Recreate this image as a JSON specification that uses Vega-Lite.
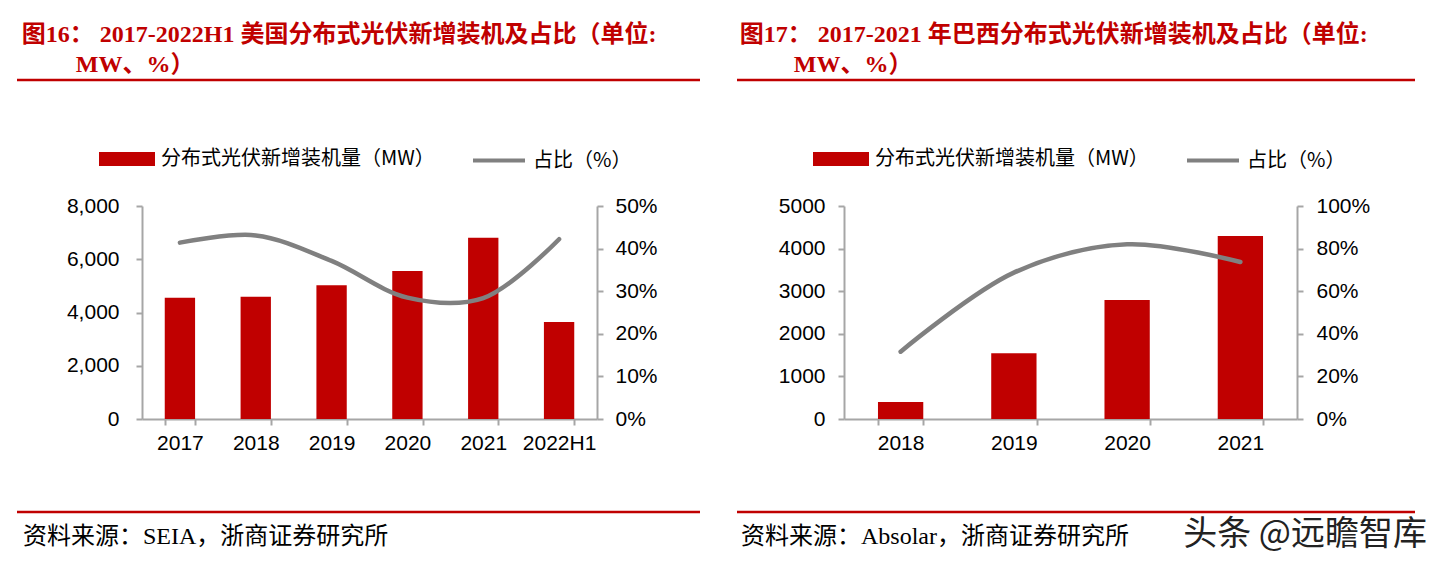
{
  "$schema": "https://vega.github.io/schema/vega-lite/v6.json",
  "padding": {"left": 15, "top": 22, "right": 5, "bottom": 5},
  "background": "white",
  "config": {
    "view": {"stroke": null},
    "font": "Liberation Sans",
    "axis": {
      "domainColor": "#A6A6A6", "domainWidth": 2,
      "tickColor": "#A6A6A6", "tickWidth": 2, "tickSize": 6,
      "labelColor": "#000000", "labelFont": "Liberation Sans", "labelFontSize": 21,
      "grid": false, "title": null
    },
    "legend": {"labelLimit": 0}
  },
  "resolve": {"scale": {"color": "independent"}, "legend": {"color": "independent"}},
  "spacing": 33,
  "datasets": {
    "us": [
      {"year": "2017", "mw": 4556, "pct": 0.414},
      {"year": "2018", "mw": 4594, "pct": 0.431},
      {"year": "2019", "mw": 5021, "pct": 0.371},
      {"year": "2020", "mw": 5559, "pct": 0.285},
      {"year": "2021", "mw": 6810, "pct": 0.284},
      {"year": "2022H1", "mw": 3643, "pct": 0.422}
    ],
    "br": [
      {"year": "2018", "mw": 399, "pct": 0.316},
      {"year": "2019", "mw": 1542, "pct": 0.687},
      {"year": "2020", "mw": 2793, "pct": 0.82},
      {"year": "2021", "mw": 4296, "pct": 0.737}
    ],
    "one": [{"k": 1}],
    "none": [],
    "src1": [{"t": "资料来源：SEIA，浙商证券研究所"}],
    "src2": [{"t": "资料来源：Absolar，浙商证券研究所"}],
    "wm": [{"t": "头条 @远瞻智库"}]
  },
  "hconcat": [
    {
      "resolve": {"scale": {"color": "independent"}, "legend": {"color": "independent"}},
      "spacing": 49,
      "vconcat": [
        {
          "width": 683, "height": 1,
          "data": {"name": "one"},
          "title": {"text": ["图16： 2017-2022H1 美国分布式光伏新增装机及占比（单位:", "\u200b\u3000\u3000 MW、%）"], "anchor": "start", "font": "Liberation Serif, Noto Sans CJK SC", "fontSize": 24, "fontWeight": "bold", "color": "#C00000", "lineHeight": 30, "offset": 2, "dx": 6},
          "mark": {"type": "rule", "color": "#C00000", "strokeWidth": 2.5},
          "encoding": {"y": {"datum": 0, "type": "quantitative", "scale": {"domain": [0, 1]}, "axis": null}}
        },
        {
          "resolve": {"scale": {"color": "independent"}, "legend": {"color": "independent"}},
          "spacing": 57,
          "vconcat": [
            {
              "resolve": {"scale": {"color": "independent"}, "legend": {"color": "independent"}},
              "columns": 2, "align": "each", "spacing": 0,
              "concat": [
                {"width": 1, "height": 1, "data": {"name": "none"}, "mark": "point"},
                {
                  "width": 455, "height": 213,
                  "data": {"name": "us"},
                  "encoding": {
                    "x": {"field": "year", "type": "nominal", "sort": null,
                          "scale": {"paddingInner": 0.6, "paddingOuter": 0.3},
                          "axis": {"labelAngle": 0, "tickBand": "extent", "labelPadding": 7}}
                  },
                  "layer": [
                    {
                      "mark": {"type": "bar"},
                      "encoding": {
                        "y": {"field": "mw", "type": "quantitative", "scale": {"domain": [0, 8000]},
                              "axis": {"values": [0, 2000, 4000, 6000, 8000], "format": ",d", "labelPadding": 17, "minExtent": 124, "maxExtent": 124}},
                        "color": {"datum": "分布式光伏新增装机量（MW）",
                                  "scale": {"domain": ["分布式光伏新增装机量（MW）", "占比（%）"], "range": ["#C00000", "#808080"]},
                                  "legend": {
                                    "orient": "none", "legendX": -43, "legendY": -75, "direction": "horizontal", "title": null,
                                    "labelFont": "Noto Sans CJK SC", "labelFontSize": 20, "labelColor": "#000000",
                                    "labelOffset": 6, "columnPadding": 30, "symbolSize": 2704,
                                    "encode": {"symbols": {"update": {
                                      "shape": {"signal": "datum.value === '占比（%）' ? 'M-1,0H1' : 'M-1,-0.19H1V0.19H-1Z'"},
                                      "fill": {"signal": "datum.value === '占比（%）' ? 'transparent' : '#C00000'"},
                                      "stroke": {"signal": "datum.value === '占比（%）' ? '#808080' : 'transparent'"},
                                      "strokeWidth": {"value": 4},
                                      "opacity": {"value": 1}
                                    }}}
                                  }}
                      }
                    },
                    {
                      "mark": {"type": "line", "interpolate": "catmull-rom", "strokeWidth": 4.5, "strokeCap": "round"},
                      "encoding": {
                        "y": {"field": "pct", "type": "quantitative", "scale": {"domain": [0, 0.5]},
                              "axis": {"orient": "right", "values": [0, 0.1, 0.2, 0.3, 0.4, 0.5], "format": ".0%", "labelPadding": 12}},
                        "color": {"datum": "占比（%）"}
                      }
                    }
                  ],
                  "resolve": {"scale": {"y": "independent"}}
                }
              ]
            },
            {
              "width": 683, "height": 1,
              "layer": [
                {
                  "data": {"name": "one"},
                  "mark": {"type": "rule", "color": "#C00000", "strokeWidth": 2.5},
                  "encoding": {"y": {"datum": 1, "type": "quantitative", "scale": {"domain": [0, 1]}, "axis": null}}
                },
                {
                  "data": {"name": "src1"},
                  "mark": {"type": "text", "font": "Liberation Serif, Noto Sans CJK SC", "fontSize": 24, "color": "#000000", "align": "left", "baseline": "middle", "dx": 6, "dy": 25},
                  "encoding": {"text": {"field": "t", "type": "nominal"}, "x": {"value": 0}, "y": {"datum": 1, "type": "quantitative"}}
                }
              ]
            }
          ]
        }
      ]
    },
    {
      "resolve": {"scale": {"color": "independent"}, "legend": {"color": "independent"}},
      "spacing": 49,
      "vconcat": [
        {
          "width": 678, "height": 1,
          "data": {"name": "one"},
          "title": {"text": ["图17： 2017-2021 年巴西分布式光伏新增装机及占比（单位:", "\u200b\u3000\u3000 MW、%）"], "anchor": "start", "font": "Liberation Serif, Noto Sans CJK SC", "fontSize": 24, "fontWeight": "bold", "color": "#C00000", "lineHeight": 30, "offset": 2, "dx": 4},
          "mark": {"type": "rule", "color": "#C00000", "strokeWidth": 2.5},
          "encoding": {"y": {"datum": 0, "type": "quantitative", "scale": {"domain": [0, 1]}, "axis": null}}
        },
        {
          "resolve": {"scale": {"color": "independent"}, "legend": {"color": "independent"}},
          "spacing": 57,
          "vconcat": [
            {
              "resolve": {"scale": {"color": "independent"}, "legend": {"color": "independent"}},
              "columns": 2, "align": "each", "spacing": 0,
              "concat": [
                {"width": 1, "height": 1, "data": {"name": "none"}, "mark": "point"},
                {
                  "width": 453, "height": 213,
                  "data": {"name": "br"},
                  "encoding": {
                    "x": {"field": "year", "type": "nominal", "sort": null,
                          "scale": {"paddingInner": 0.6, "paddingOuter": 0.3},
                          "axis": {"labelAngle": 0, "tickBand": "extent", "labelPadding": 7}}
                  },
                  "layer": [
                    {
                      "mark": {"type": "bar"},
                      "encoding": {
                        "y": {"field": "mw", "type": "quantitative", "scale": {"domain": [0, 5000]},
                              "axis": {"values": [0, 1000, 2000, 3000, 4000, 5000], "format": "d", "labelPadding": 13, "minExtent": 106, "maxExtent": 106}},
                        "color": {"datum": "分布式光伏新增装机量（MW）",
                                  "scale": {"domain": ["分布式光伏新增装机量（MW）", "占比（%）"], "range": ["#C00000", "#808080"]},
                                  "legend": {
                                    "orient": "none", "legendX": -31, "legendY": -75, "direction": "horizontal", "title": null,
                                    "labelFont": "Noto Sans CJK SC", "labelFontSize": 20, "labelColor": "#000000",
                                    "labelOffset": 6, "columnPadding": 30, "symbolSize": 2704,
                                    "encode": {"symbols": {"update": {
                                      "shape": {"signal": "datum.value === '占比（%）' ? 'M-1,0H1' : 'M-1,-0.19H1V0.19H-1Z'"},
                                      "fill": {"signal": "datum.value === '占比（%）' ? 'transparent' : '#C00000'"},
                                      "stroke": {"signal": "datum.value === '占比（%）' ? '#808080' : 'transparent'"},
                                      "strokeWidth": {"value": 4},
                                      "opacity": {"value": 1}
                                    }}}
                                  }}
                      }
                    },
                    {
                      "mark": {"type": "line", "interpolate": "catmull-rom", "strokeWidth": 4.5, "strokeCap": "round"},
                      "encoding": {
                        "y": {"field": "pct", "type": "quantitative", "scale": {"domain": [0, 1]},
                              "axis": {"orient": "right", "values": [0, 0.2, 0.4, 0.6, 0.8, 1], "format": ".0%", "labelPadding": 13}},
                        "color": {"datum": "占比（%）"}
                      }
                    }
                  ],
                  "resolve": {"scale": {"y": "independent"}}
                }
              ]
            },
            {
              "width": 678, "height": 1,
              "layer": [
                {
                  "data": {"name": "one"},
                  "mark": {"type": "rule", "color": "#C00000", "strokeWidth": 2.5},
                  "encoding": {"y": {"datum": 1, "type": "quantitative", "scale": {"domain": [0, 1]}, "axis": null}}
                },
                {
                  "data": {"name": "src2"},
                  "mark": {"type": "text", "font": "Liberation Serif, Noto Sans CJK SC", "fontSize": 24, "color": "#000000", "align": "left", "baseline": "middle", "dx": 4, "dy": 25},
                  "encoding": {"text": {"field": "t", "type": "nominal"}, "x": {"value": 0}, "y": {"datum": 1, "type": "quantitative"}}
                },
                {
                  "data": {"name": "wm"},
                  "mark": {"type": "text", "font": "Noto Sans CJK SC", "fontSize": 34, "color": "#222222", "align": "right", "baseline": "middle", "dx": 12, "dy": 23},
                  "encoding": {"text": {"field": "t", "type": "nominal"}, "x": {"value": "width"}, "y": {"datum": 1, "type": "quantitative"}}
                }
              ]
            }
          ]
        }
      ]
    }
  ]
}
